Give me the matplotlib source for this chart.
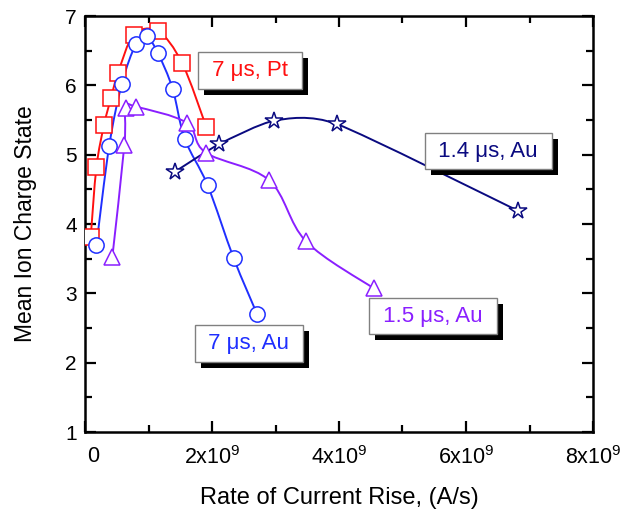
import numpy as np
import matplotlib
matplotlib.use("Agg")
import matplotlib.pyplot as plt
from matplotlib.path import Path
from matplotlib.patches import PathPatch
from matplotlib.transforms import ScaledTranslation
import matplotlib.patheffects as pe

plt.rcParams['font.family'] = ['Liberation Sans', 'DejaVu Sans']
plt.rcParams['mathtext.default'] = 'regular'

# data (x in A/s, y = mean ion charge state)
pt7_x = [0.09e9, 0.18e9, 0.30e9, 0.41e9, 0.52e9, 0.77e9, 1.15e9, 1.53e9, 1.91e9]
pt7_y = [3.81, 4.82, 5.43, 5.82, 6.18, 6.73, 6.78, 6.32, 5.40]

au7_x = [0.18e9, 0.38e9, 0.58e9, 0.80e9, 0.97e9, 1.15e9, 1.38e9, 1.57e9, 1.93e9, 2.34e9, 2.71e9]
au7_y = [3.70, 5.12, 6.02, 6.59, 6.71, 6.46, 5.95, 5.23, 4.56, 3.51, 2.70]

au15_x = [0.43e9, 0.62e9, 0.64e9, 0.81e9, 1.60e9, 1.90e9, 2.90e9, 3.48e9, 4.55e9]
au15_y = [3.52, 5.14, 5.68, 5.69, 5.46, 5.03, 4.63, 3.75, 3.07]

au14_x = [1.41e9, 2.11e9, 2.98e9, 3.97e9, 6.82e9]
au14_y = [4.75, 5.15, 5.49, 5.44, 4.19]

x_ticks = [0, 2e9, 4e9, 6e9, 8e9]
x_ticklabels = ['0', r'2x10$^9$', r'4x10$^9$', r'6x10$^9$', r'8x10$^9$']
y_ticks = [1, 2, 3, 4, 5, 6, 7]


# smooth connecting line through the points (Catmull-Rom as cubic Bezier)
def smooth_line(ax, xs, ys, color, k=6.0):
    p = np.column_stack([xs, ys])
    verts = [tuple(p[0])]
    codes = [Path.MOVETO]
    n = len(p)
    for i in range(n - 1):
        p0 = p[i - 1] if i > 0 else p[i]
        p1, p2 = p[i], p[i + 1]
        p3 = p[i + 2] if i + 2 < n else p[i + 1]
        c1 = p1 + (p2 - p0) / k
        c2 = p2 - (p3 - p1) / k
        verts += [tuple(c1), tuple(c2), tuple(p2)]
        codes += [Path.CURVE4] * 3
    ax.add_patch(PathPatch(Path(verts, codes), fill=False, edgecolor=color, lw=1.4, zorder=2))


fig = plt.figure(figsize=(6.32, 5.2), dpi=100)
ax = fig.add_axes([85 / 632, 1 - 432 / 520, 508 / 632, 416 / 520])

red = '#ff1010'
blue = '#1f2fff'
purple = '#8a1fff'
navy = '#0a0a80'

series = [
    (pt7_x, pt7_y, red, 's', 11, 6.0),
    (au7_x, au7_y, blue, 'o', 11, 6.0),
    (au15_x, au15_y, purple, '^', 12, 6.0),
    (au14_x, au14_y, navy, '*', 13, 9.0),
]
for xs, ys, c, m, ms, k in series:
    smooth_line(ax, xs, ys, c, k)
    ax.plot(xs, ys, ls='none', marker=m, ms=ms, mfc='white', mec=c, mew=1.1, zorder=3)

ax.set_xlim(0, 8e9)
ax.set_ylim(1, 7)
ax.set_xticks(x_ticks)
ax.set_xticklabels(x_ticklabels)
ax.set_xticks([1e9, 3e9, 5e9, 7e9], minor=True)
ax.set_yticks(y_ticks)
ax.set_yticks(np.arange(1.5, 7, 1.0), minor=True)
ax.tick_params(which='both', direction='in', top=True, right=True, labelsize=15, width=1.6)
ax.tick_params(which='major', length=8)
ax.tick_params(axis='x', which='major', pad=10, labelsize=15.5)
ax.tick_params(axis='y', which='major', pad=6)
ax.tick_params(which='minor', length=5)
zero_lbl = ax.get_xticklabels()[0]
zero_lbl.set_transform(zero_lbl.get_transform() + ScaledTranslation(8 / 100, 0, fig.dpi_scale_trans))
for s in ax.spines.values():
    s.set_linewidth(1.8)

ax.set_xlabel('Rate of Current Rise, (A/s)', fontsize=17, labelpad=13)
ax.set_ylabel('Mean Ion Charge State', fontsize=16.5, labelpad=20)

# boxed labels with a black drop shadow
labels = [
    ('7 μs, Pt', 2.6e9, 6.21, red),
    ('7 μs, Au', 2.58e9, 2.28, blue),
    ('1.5 μs, Au', 5.48e9, 2.67, purple),
    ('1.4 μs, Au', 6.35e9, 5.05, navy),
]
for txt, lx, ly, c in labels:
    t = ax.text(lx, ly, ' ' + txt + ' ', color=c, fontsize=16, ha='center', va='center',
                bbox=dict(boxstyle='square,pad=0.35', fc='white', ec='#808080', lw=1), zorder=5)
    t.get_bbox_patch().set_path_effects(
        [pe.SimplePatchShadow(offset=(4.3, -4.3), shadow_rgbFace='black', alpha=1), pe.Normal()])

fig.savefig('out.png', dpi=100)
